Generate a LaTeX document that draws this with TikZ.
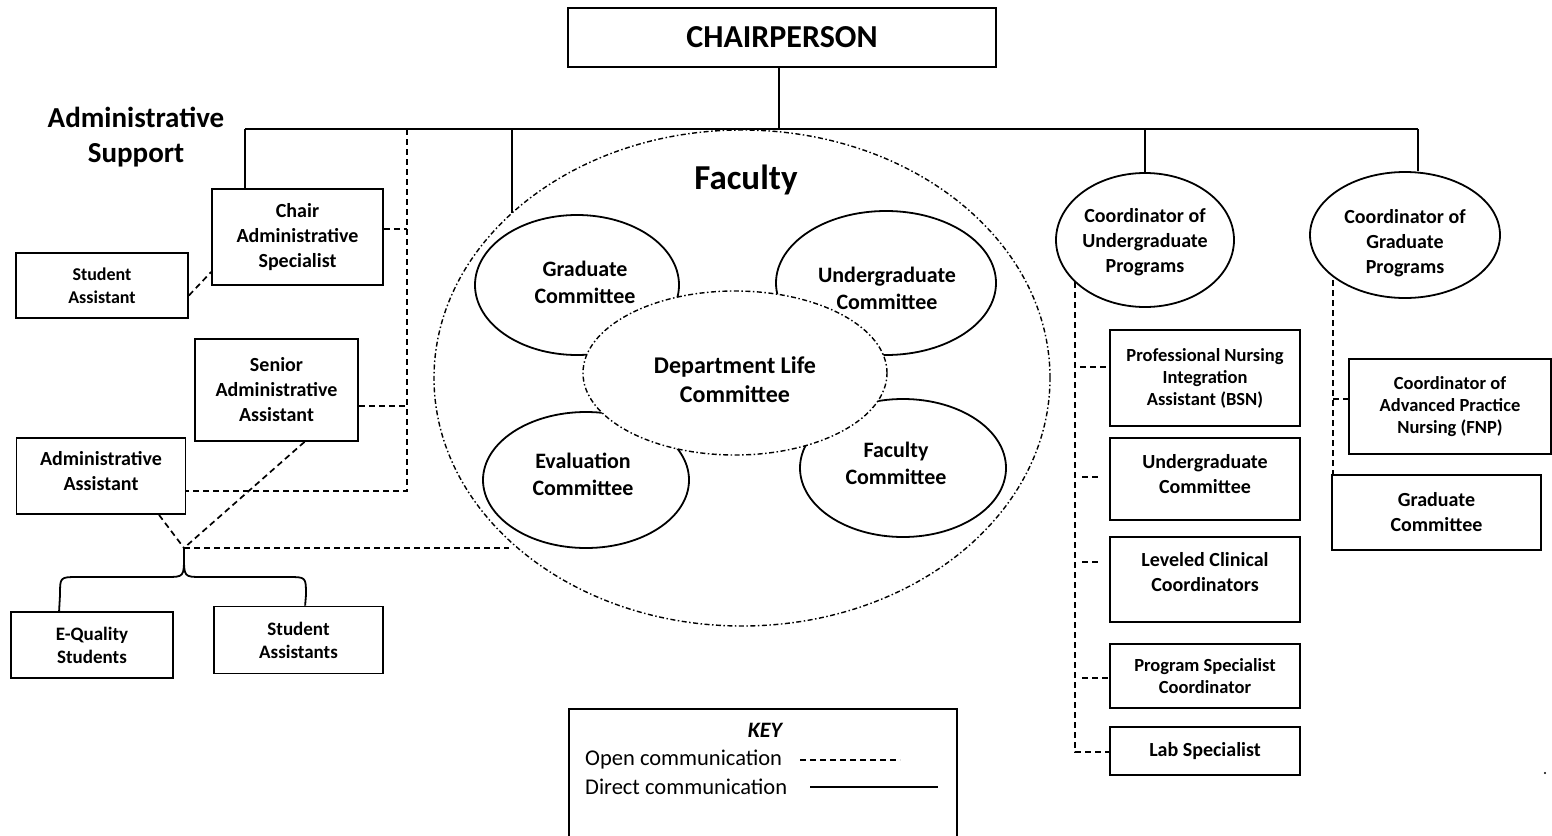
\documentclass[tikz,border=0pt]{standalone}
\usepackage{fontspec}
\setmainfont{Carlito}
\usetikzlibrary{shapes.geometric,calc}
\begin{document}
\begin{tikzpicture}[x=1pt,y=-1pt,
  box/.style={draw,line width=1.8pt,rectangle,inner sep=0pt,align=center,font=\fontsize{20}{25}\selectfont\bfseries},
  smallbox/.style={box,font=\fontsize{18.5}{22}\selectfont\bfseries},
  ell/.style={draw,line width=1.8pt,ellipse,inner sep=0pt},
  dashdot/.style={line width=1.4pt,dash pattern=on 5pt off 2.5pt on 1.5pt off 2.5pt},
  opencom/.style={line width=1.7pt,dash pattern=on 6pt off 4pt},
  directcom/.style={line width=1.8pt},
  lbl/.style={align=center,inner sep=0pt},
  boxtxt/.style={lbl,font=\fontsize{20}{25}\selectfont\bfseries},
  comtxt/.style={lbl,font=\fontsize{22}{27}\selectfont\bfseries},
  coordtxt/.style={lbl,font=\fontsize{20}{25}\selectfont\bfseries},
]
\useasboundingbox (0,0) rectangle (1552,835);

% top
\node[box,minimum width=428pt,minimum height=59pt,font=\fontsize{32}{36}\selectfont\bfseries] (chair) at (782,37.5) {CHAIRPERSON};
\node[lbl,font=\fontsize{29}{35}\selectfont\bfseries] (adm) at (136,137) {Administrative\\Support};

% administrative support boxes
\node[box,minimum width=171pt,minimum height=96pt] (cas) at (297.5,237) {Chair\\Administrative\\Specialist};
\node[box,minimum width=172pt,minimum height=65pt,font=\fontsize{18}{23}\selectfont\bfseries] (sa) at (102,285.5) {Student\\Assistant};
\node[box,minimum width=163pt,minimum height=102pt] (saa) at (276.5,390) {Senior\\Administrative\\Assistant};
\node[box,minimum width=169pt,minimum height=76pt] (aa) at (101,476) {};
\node[boxtxt] (aatxt) at ($(aa.center)+(0,-5)$) {Administrative\\Assistant};
\node[box,minimum width=162pt,minimum height=66pt,font=\fontsize{19}{23}\selectfont\bfseries] (eq) at (92,645) {E-Quality\\Students};
\node[box,minimum width=169pt,minimum height=67pt,font=\fontsize{19}{23}\selectfont\bfseries] (stas) at (298.5,640) {Student\\Assistants};

% faculty
\node[ell,dashdot,minimum width=616pt,minimum height=496pt] (fac) at (742,378) {};
\node[lbl,font=\fontsize{35}{40}\selectfont\bfseries] (factxt) at (746,180) {Faculty};
\node[ell,minimum width=204pt,minimum height=140pt] (gc) at (577,285) {};
\node[ell,minimum width=220pt,minimum height=144pt] (uce) at (886,283) {};
\node[ell,minimum width=206pt,minimum height=136pt] (ec) at (586,480) {};
\node[ell,minimum width=206pt,minimum height=138pt] (fc) at (903,468) {};
\node[ell,dashdot,fill=white,minimum width=304pt,minimum height=164pt] (dlc) at (735,373) {};
\node[comtxt] (gctxt) at (585,282) {Graduate\\Committee};
\node[comtxt] (ucetxt) at (887,288) {Undergraduate\\Committee};
\node[comtxt] (ectxt) at (583,474) {Evaluation\\Committee};
\node[comtxt] (fctxt) at (896,463) {Faculty\\Committee};
\node[lbl,font=\fontsize{24}{29}\selectfont\bfseries] (dlctxt) at (735,380) {Department Life\\Committee};

% coordinators
\node[ell,minimum width=178pt,minimum height=134pt] (cup) at (1145,240) {};
\node[coordtxt] (cuptxt) at (1145,242) {Coordinator of\\Undergraduate\\Programs};
\node[ell,minimum width=190pt,minimum height=126pt] (cgp) at (1405,235) {};
\node[coordtxt] (cgptxt) at (1405,243) {Coordinator of\\Graduate\\Programs};

% right boxes
\node[smallbox,minimum width=190pt,minimum height=96pt] (pnia) at (1205,378) {Professional Nursing\\Integration\\Assistant (BSN)};
\node[box,minimum width=190pt,minimum height=82pt] (ugc) at (1205,479) {};
\node[boxtxt] (ugctxt) at ($(ugc.center)+(0,-5)$) {Undergraduate\\Committee};
\node[box,minimum width=190pt,minimum height=85pt] (lcc) at (1205,579.5) {};
\node[boxtxt] (lcctxt) at ($(lcc.center)+(0,-7)$) {Leveled Clinical\\Coordinators};
\node[smallbox,minimum width=190pt,minimum height=64pt] (psc) at (1205,676) {Program Specialist\\Coordinator};
\node[box,minimum width=190pt,minimum height=48pt] (lab) at (1205,751) {Lab Specialist};
\node[smallbox,minimum width=202pt,minimum height=95pt] (fnp) at (1450,406.5) {Coordinator of\\Advanced Practice\\Nursing (FNP)};
\node[box,minimum width=209pt,minimum height=75pt] (grc) at (1436.5,512.5) {Graduate\\Committee};

% direct communication
\coordinate (bus) at (779,129);
\coordinate (busL) at (245,129);
\coordinate (busR) at (1418,129);
\coordinate (busF) at (512,129);
\coordinate (busU) at (1145,129);
\coordinate (facT) at ($(fac.center)+(-230,-165)$);
\draw[directcom] (chair.south -| bus) -- (bus);
\draw[directcom] (busL) -- (busR);
\draw[directcom] (busL) -- (busL |- cas.north);
\draw[directcom] (busF) -- (facT);
\draw[directcom] (busU) -- (cup.north);
\draw[directcom] (busR) -- (busR |- cgp.north);

% admin open communication
\coordinate (adT) at (407,129);
\coordinate (adB) at (407,491);
\draw[opencom] (adT) -- (adB) -- (adB -| aa.east);
\coordinate (casE) at ($(cas.east)+(0,-8)$);
\draw[opencom] (casE) -- (casE -| adT);
\coordinate (saaE) at ($(saa.east)+(0,16)$);
\draw[opencom] (saaE) -- (saaE -| adT);
\coordinate (saE) at ($(sa.east)+(0,10)$);
\coordinate (casW) at ($(cas.west)+(0,35)$);
\draw[opencom] (saE) -- (casW);
\coordinate (J) at (184,548);
\coordinate (JE) at (509,548);
\coordinate (saaS) at ($(saa.south)+(28,0)$);
\coordinate (aaS) at ($(aa.south)+(58,0)$);
\draw[opencom] (saaS) -- (J);
\draw[opencom] (aaS) -- (J);
\draw[opencom] (J) -- (JE);

% brace
\coordinate (eqT) at ($(eq.north west)+(49,0)$);
\coordinate (stasT) at ($(stas.north west)+(92,0)$);
\draw[directcom] (J) -- (184,556) .. controls (184,577) and (184,577) .. (166,577) -- (78,577) .. controls (60,577) and (60,577) .. (60,595) -- (eqT);
\draw[directcom] (184,556) .. controls (184,577) and (184,577) .. (202,577) -- (288,577) .. controls (306,577) and (306,577) .. (306,595) -- (stasT);

% undergraduate coordinator open communication
\coordinate (uT) at (1075,282);
\coordinate (uB) at (1075,752);
\draw[opencom] (uT) -- (uB) -- (uB -| lab.west);
\coordinate (s1) at (1080,367);
\draw[opencom] (s1) -- (s1 -| pnia.west);
\coordinate (s2a) at (1082,477);
\coordinate (s2b) at (1098,477);
\draw[opencom] (s2a) -- (s2b);
\coordinate (s3a) at (1082,562);
\coordinate (s3b) at (1098,562);
\draw[opencom] (s3a) -- (s3b);
\coordinate (s4) at (1082,678);
\draw[opencom] (s4) -- (s4 -| psc.west);

% graduate coordinator open communication
\coordinate (gT) at (1333,280);
\draw[opencom] (gT) -- (gT |- grc.north);
\coordinate (s5) at (1333,399);
\draw[opencom] (s5) -- (s5 -| fnp.west);

% key
\node[draw,line width=1.8pt,minimum width=388pt,minimum height=140pt,anchor=north west,inner sep=0pt] (key) at (568,708) {};
\node[font=\fontsize{22}{26}\selectfont\bfseries\itshape,inner sep=0pt] (keyt) at (765,730) {KEY};
\node[anchor=west,inner sep=0pt,font=\fontsize{22.5}{26}\selectfont] (ko) at (585,760) {Open communication};
\node[anchor=west,inner sep=0pt,font=\fontsize{22.5}{26}\selectfont] (kd) at (585,787) {Direct communication};
\coordinate (koL) at (800,760);
\coordinate (koR) at (900,760);
\coordinate (kdL) at (810,787);
\coordinate (kdR) at (938,787);
\draw[opencom] (koL) -- (koR);
\draw[directcom] (kdL) -- (kdR);

\fill (1545,773) circle (1.2pt);
\end{tikzpicture}
\end{document}
